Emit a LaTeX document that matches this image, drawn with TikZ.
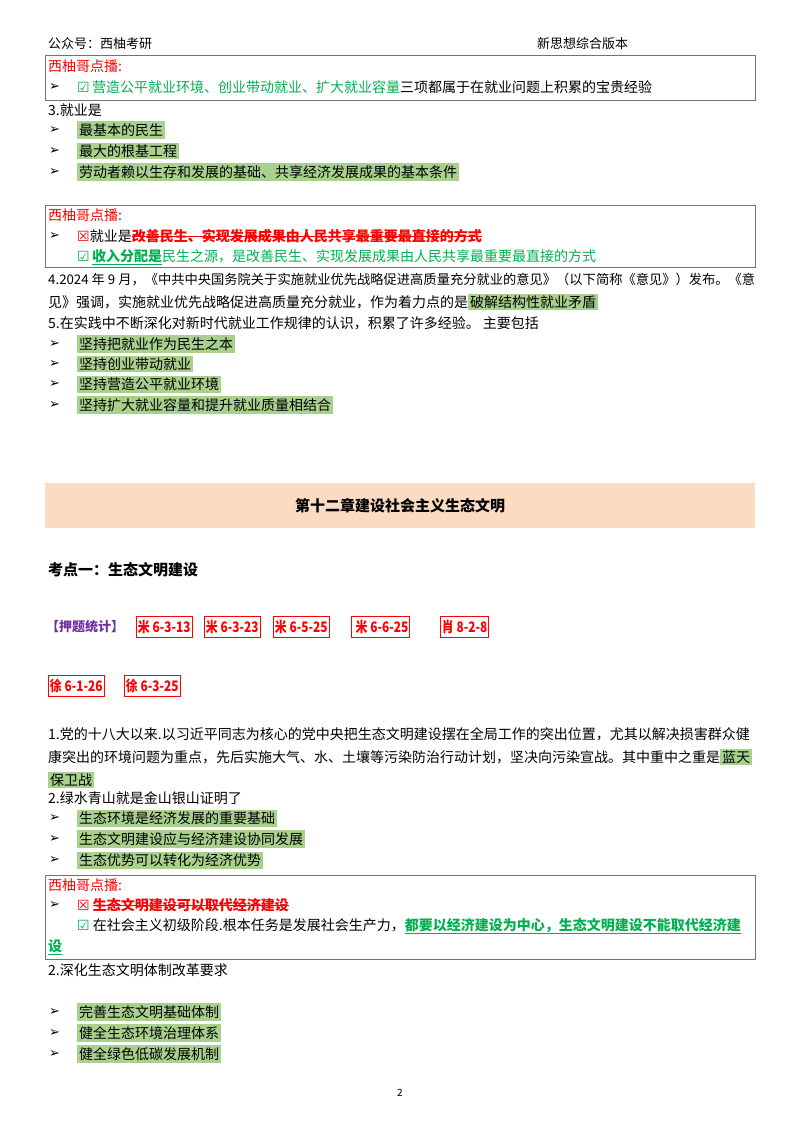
\documentclass[tikz,border=0pt]{standalone}
\usepackage{fontspec}
\usepackage{graphicx}
\setmainfont{Noto Sans CJK SC}
\newfontfamily\djfont{DejaVu Sans}
\definecolor{hl}{HTML}{A9D18E}
\definecolor{gr}{HTML}{00B050}
\definecolor{rd}{HTML}{FF0000}
\definecolor{pu}{HTML}{7030A0}
\definecolor{banner}{HTML}{FBDCC2}
\newsavebox\mybox
\newcommand\strk[1]{\sbox\mybox{#1}\rlap{\usebox\mybox}\rule[0.32em]{\wd\mybox}{0.8pt}}
\newcommand\ul[1]{\sbox\mybox{#1}\rlap{\usebox\mybox}\rule[-0.22em]{\wd\mybox}{0.8pt}}
\newcommand\hlb[1]{{\fboxsep=2pt\colorbox{hl}{#1}}}
\newcommand\arr{{\djfont\fontsize{13}{13}\selectfont ➢}}
\newcommand\cb{{\djfont\textcolor{gr}{☑}}}
\newcommand\xb{{\djfont\textcolor{rd}{☒}}}
\newcommand\nar[1]{\scalebox{0.82}[1]{#1}}
\begin{document}
\begin{tikzpicture}[x=1pt,y=-1pt,
  every node/.style={inner sep=0pt,font=\fontsize{14}{16}\selectfont},
  t/.style={anchor=west},
  bul/.style={anchor=west},
  ptbox/.style={draw=black!55,line width=0.8pt},
  tag/.style={draw=rd,line width=0.9pt,text=rd,font=\fontsize{14.5}{16}\selectfont\bfseries,inner xsep=1.5pt,minimum height=21pt,anchor=west}]
\useasboundingbox (0,0) rectangle (800,1132);
% header
\node[t,font=\fontsize{13}{15}\selectfont] (h1) at (48,44) {公众号：西柚考研};
\node[t,font=\fontsize{13}{15}\selectfont] (h2) at (537,44) {新思想综合版本};
% box 1
\draw[ptbox] (45,55) rectangle (755,100);
\node[t,text=rd] (b1t) at (48,66) {西柚哥点播:};
\node[bul] (b1a) at (49,87) {\arr};
\node[t] (b1) at (77,87) {\cb\,\textcolor{gr}{营造公平就业环境、创业带动就业、扩大就业容量}三项都属于在就业问题上积累的宝贵经验};
\node[t] (s3) at (48,110) {3.就业是};
\foreach \y/\s [count=\i] in {130/最基本的民生,151/最大的根基工程,172/劳动者赖以生存和发展的基础、共享经济发展成果的基本条件}{
  \node[bul] (a\i) at (49,\y) {\arr};
  \node[t] (ta\i) at (77,\y) {\hlb{\s}};}
% box 2
\draw[ptbox] (45,205) rectangle (755,267);
\node[t,text=rd] (b2t) at (48,215) {西柚哥点播:};
\node[bul] (b2a) at (49,236) {\arr};
\node[t] (b2x) at (77,236) {\xb 就业是\textcolor{rd}{\bfseries\strk{改善民生、实现发展成果由人民共享最重要最直接的方式}}};
\node[t] (b2y) at (77,257) {\cb\,\textcolor{gr}{\bfseries\ul{收入分配是}}\textcolor{gr}{民生之源，是改善民生、实现发展成果由人民共享最重要最直接的方式}};
\node[t] (p4a) at (48,280) {\resizebox{707pt}{!}{4.2024 年 9 月，《中共中央国务院关于实施就业优先战略促进高质量充分就业的意见》（以下简称《意见》）发布。《意}};
\node[t] (p4b) at (48,302) {见》强调，实施就业优先战略促进高质量充分就业，作为着力点的是\hlb{破解结构性就业矛盾}};
\node[t] (p5) at (48,323) {5.在实践中不断深化对新时代就业工作规律的认识，积累了许多经验。 主要包括};
\foreach \y/\s [count=\i] in {344/坚持把就业作为民生之本,364/坚持创业带动就业,384/坚持营造公平就业环境,405/坚持扩大就业容量和提升就业质量相结合}{
  \node[bul] (c\i) at (49,\y) {\arr};
  \node[t] (tc\i) at (77,\y) {\hlb{\s}};}
% banner
\fill[banner] (45,483) rectangle (755,528);
\node[font=\fontsize{15}{17}\selectfont\bfseries] (ban) at (400,506) {第十二章建设社会主义生态文明};
\node[t,font=\fontsize{15}{17}\selectfont\bfseries] (kd) at (48,570) {考点一：生态文明建设};
\node[t,text=pu,font=\fontsize{13}{15}\selectfont\bfseries] (yt) at (46,627) {【押题统计】};
\node[tag] (g1) at (136,627) {\nar{米 6-3-13}};
\node[tag] (g2) at (204,627) {\nar{米 6-3-23}};
\node[tag] (g3) at (273,627) {\nar{米 6-5-25}};
\node[tag] (g4) at (351,627) {\nar{\ 米 6-6-25}};
\node[tag] (g5) at (440,627) {\nar{肖 8-2-8}};
\node[tag] (g6) at (48,686) {\nar{徐 6-1-26}};
\node[tag] (g7) at (124,686) {\nar{徐 6-3-25}};
\node[t] (q1a) at (48,734) {1.党的十八大以来.以习近平同志为核心的党中央把生态文明建设摆在全局工作的突出位置，尤其以解决损害群众健};
\node[t] (q1b) at (48,757) {康突出的环境问题为重点，先后实施大气、水、土壤等污染防治行动计划，坚决向污染宣战。其中重中之重是\hlb{蓝天}};
\node[t] (q1c) at (48,780) {\hlb{保卫战}};
\node[t] (q2) at (48,798) {2.绿水青山就是金山银山证明了};
\foreach \y/\s [count=\i] in {818/生态环境是经济发展的重要基础,839/生态文明建设应与经济建设协同发展,860/生态优势可以转化为经济优势}{
  \node[bul] (d\i) at (49,\y) {\arr};
  \node[t] (td\i) at (77,\y) {\hlb{\s}};}
% box 3
\draw[ptbox] (45,875) rectangle (755,959);
\node[t,text=rd] (b3t) at (48,885) {西柚哥点播:};
\node[bul] (b3a) at (49,905) {\arr};
\node[t] (b3x) at (77,905) {\xb\ \textcolor{rd}{\bfseries\strk{生态文明建设可以取代经济建设}}};
\node[t] (b3y) at (77,926) {\cb\ 在社会主义初级阶段.根本任务是发展社会生产力，\textcolor{gr}{\bfseries\ul{都要以经济建设为中心，生态文明建设不能取代经济建}}};
\node[t] (b3z) at (48,947) {\textcolor{gr}{\bfseries\ul{设}}};
\node[t] (q3) at (48,970) {2.深化生态文明体制改革要求};
\foreach \y/\s [count=\i] in {1012/完善生态文明基础体制,1033/健全生态环境治理体系,1054/健全绿色低碳发展机制}{
  \node[bul] (e\i) at (49,\y) {\arr};
  \node[t] (te\i) at (77,\y) {\hlb{\s}};}
\node[font=\fontsize{10}{12}\selectfont] (pg) at (400,1093) {2};
\end{tikzpicture}
\end{document}
